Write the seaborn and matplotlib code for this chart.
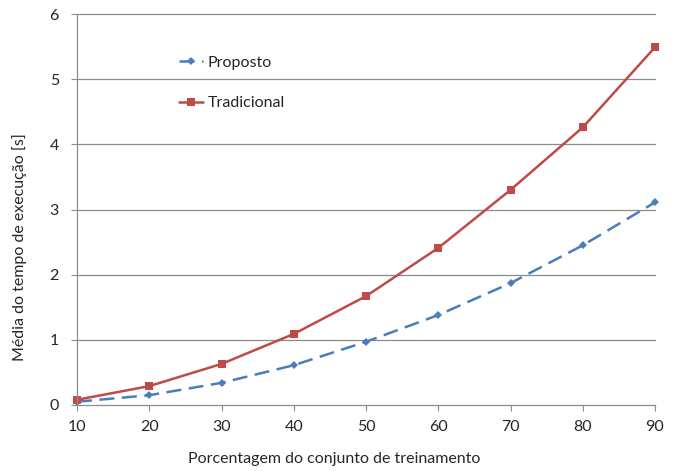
import pandas as pd
import seaborn as sns
import matplotlib.pyplot as plt

# dados
percentual = [10, 20, 30, 40, 50, 60, 70, 80, 90]
proposto = [0.05, 0.15, 0.34, 0.61, 0.97, 1.38, 1.87, 2.45, 3.11]
tradicional = [0.08, 0.29, 0.63, 1.09, 1.67, 2.41, 3.30, 4.26, 5.49]

df = pd.DataFrame({
    'x': percentual * 2,
    'y': proposto + tradicional,
    'serie': ['Proposto'] * len(percentual) + ['Tradicional'] * len(percentual),
})

sns.set_style('white')
plt.rcParams['font.family'] = ['Lato', 'DejaVu Sans']
FS = 11.5

fig = plt.figure(figsize=(6.81, 4.71), dpi=100)
ax = fig.add_axes([77 / 681, 66 / 471, 578 / 681, 391 / 471])

for y in range(1, 7):
    ax.axhline(y, color='#8c8c8c', lw=0.9, zorder=0)

sns.lineplot(data=df[df.serie == 'Proposto'], x='x', y='y', ax=ax,
             color='#4a7ebb', lw=1.8, marker='D', markersize=4.5,
             markeredgewidth=0, label='Proposto')
ax.lines[-1].set_dashes((6, 3))
sns.lineplot(data=df[df.serie == 'Tradicional'], x='x', y='y', ax=ax,
             color='#be4b48', lw=1.8, marker='s', markersize=6,
             markeredgewidth=0, label='Tradicional')

ax.set_xlim(10, 90)
ax.set_ylim(0, 6)
ax.set_xticks(range(10, 91, 10))
ax.set_yticks(range(0, 7))
ax.tick_params(axis='both', labelsize=FS, length=4, color='#8c8c8c',
               direction='out', bottom=True, left=True)
ax.tick_params(axis='x', pad=7)
ax.tick_params(axis='y', pad=9)
for s in ['top', 'right']:
    ax.spines[s].set_visible(False)
for s in ['left', 'bottom']:
    ax.spines[s].set_color('#8c8c8c')
    ax.spines[s].set_linewidth(0.9)
for ln in ax.lines:
    ln.set_clip_on(False)

ax.set_xlabel('Porcentagem do conjunto de treinamento', fontsize=FS)
ax.set_ylabel('Média do tempo de execução [s]', fontsize=FS)
ax.xaxis.set_label_coords(0.445, -0.12)
ax.yaxis.set_label_coords(-0.087, 0.404)

ax.legend(loc='upper left', bbox_to_anchor=(0.152, 0.93), frameon=False,
          fontsize=FS, labelspacing=1.65, handlelength=1.5, handletextpad=0.3)

plt.savefig('out.png', dpi=100)
